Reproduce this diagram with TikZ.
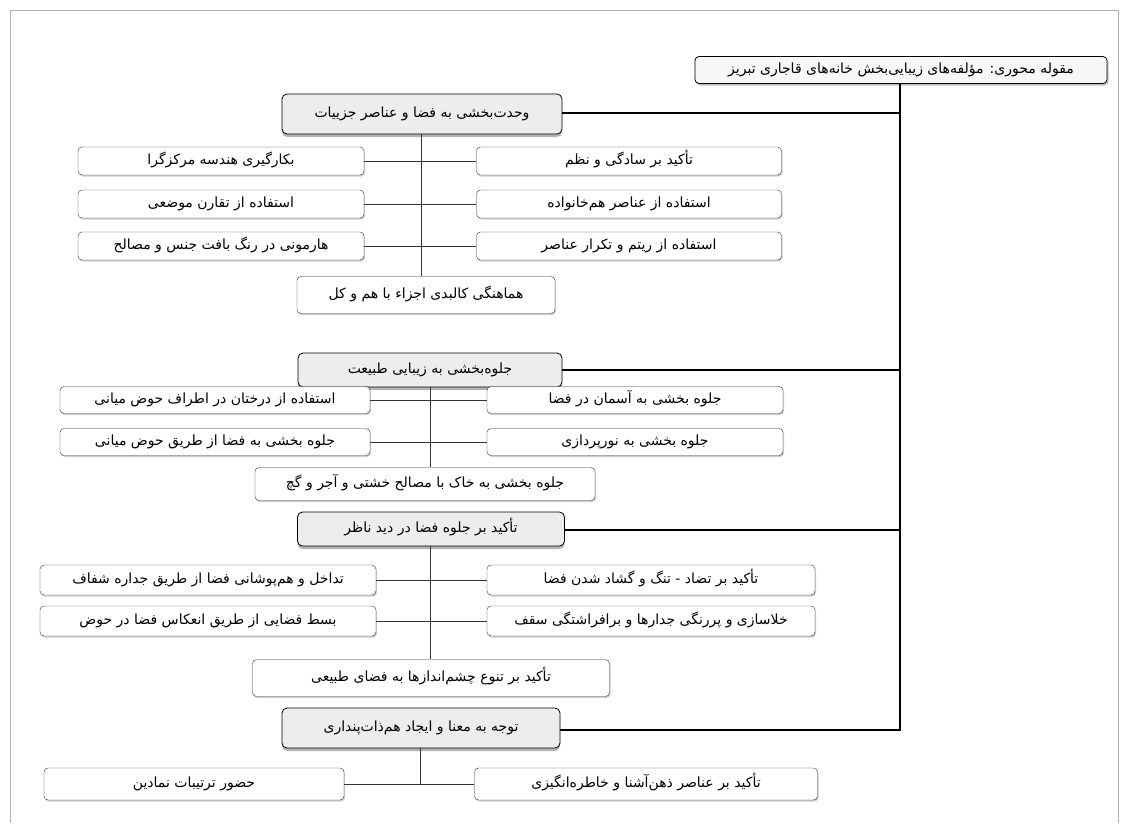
\documentclass[tikz,border=0pt]{standalone}
\usepackage{fontspec}
\newfontfamily\arabicfont[Script=Arabic]{DejaVu Sans}
\TeXXeTstate=1
\usetikzlibrary{positioning, shadows}
\newcommand{\fa}[1]{\beginR #1\endR}

\begin{document}
\begin{tikzpicture} [
    x=1pt, y=-1pt,
    topbox/.style={rectangle, rounded corners=4pt, draw=black, thick, fill=gray!6, minimum height=27pt, inner sep=2pt, text height=10pt, text depth=4pt, font=\arabicfont\fontsize{14}{16}\selectfont, drop shadow={shadow xshift=1.5pt, shadow yshift=-2pt, opacity=0.5}},
    mainbox/.style={rectangle, rounded corners=5pt, draw=black, thick, fill=gray!14, inner sep=2pt, text height=10pt, text depth=4pt, font=\arabicfont\fontsize{14}{16}\selectfont, drop shadow={shadow xshift=0pt, shadow yshift=-3pt, opacity=0.6}},
    subbox/.style={rectangle, rounded corners=4pt, draw=black!80, fill=white, inner sep=2pt, text height=10pt, text depth=4pt, font=\arabicfont\fontsize{14}{16}\selectfont, drop shadow={shadow xshift=1pt, shadow yshift=-1.5pt, opacity=0.4}},
    trunk/.style={black, line width=2pt},
    link/.style={black!80, line width=0.8pt}
]
\useasboundingbox (0,0) rectangle (1124,823);
\draw[gray!60] (10,823) -- (10,10) -- (1118,10) -- (1118,823);

% Layer 1: Define all nodes first
\node[topbox, minimum width=412pt] (core) at (901,70) {\fa{مقوله محوری: مؤلفه^^^^200cهای زیبایی^^^^200cبخش خانه^^^^200cهای قاجاری تبریز}};

% Group 1
\node[mainbox, minimum width=280pt, minimum height=40pt] (unity) at (422,114) {\fa{وحدت^^^^200cبخشی به فضا و عناصر جزییات}};
\node[subbox, minimum width=305pt, minimum height=28pt] (unity_r1) at (629,161) {\fa{تأکید بر سادگی و نظم}};
\node[subbox, minimum width=305pt, minimum height=28pt] (unity_r2) at (629,204) {\fa{استفاده از عناصر هم^^^^200cخانواده}};
\node[subbox, minimum width=305pt, minimum height=28pt] (unity_r3) at (629,246) {\fa{استفاده از ریتم و تکرار عناصر}};
\node[subbox, minimum width=286pt, minimum height=28pt] (unity_l1) at (221,161) {\fa{بکارگیری هندسه مرکزگرا}};
\node[subbox, minimum width=286pt, minimum height=28pt] (unity_l2) at (221,204) {\fa{استفاده از تقارن موضعی}};
\node[subbox, minimum width=286pt, minimum height=28pt] (unity_l3) at (221,246) {\fa{هارمونی در رنگ بافت جنس و مصالح}};
\node[subbox, minimum width=258pt, minimum height=37pt] (unity_end) at (426,295) {\fa{هماهنگی کالبدی اجزاء با هم و کل}};

% Group 2
\node[mainbox, minimum width=264pt, minimum height=34pt] (nature) at (430,370) {\fa{جلوه^^^^200cبخشی به زیبایی طبیعت}};
\node[subbox, minimum width=296pt, minimum height=27pt] (nature_r1) at (635,400) {\fa{جلوه بخشی به آسمان در فضا}};
\node[subbox, minimum width=296pt, minimum height=27pt] (nature_r2) at (635,442) {\fa{جلوه بخشی به نورپردازی}};
\node[subbox, minimum width=310pt, minimum height=27pt] (nature_l1) at (215,400) {\fa{استفاده از درختان در اطراف حوض میانی}};
\node[subbox, minimum width=310pt, minimum height=27pt] (nature_l2) at (215,442) {\fa{جلوه بخشی به فضا از طریق حوض میانی}};
\node[subbox, minimum width=340pt, minimum height=33pt] (nature_end) at (425,484) {\fa{جلوه بخشی به خاک با مصالح خشتی و آجر و گچ}};

% Group 3
\node[mainbox, minimum width=267pt, minimum height=34pt] (view) at (431,529) {\fa{تأکید بر جلوه فضا در دید ناظر}};
\node[subbox, minimum width=328pt, minimum height=30pt] (view_r1) at (651,580) {\fa{تأکید بر تضاد - تنگ و گشاد شدن فضا}};
\node[subbox, minimum width=328pt, minimum height=30pt] (view_r2) at (651,621) {\fa{خلاسازی و پررنگی جدارها و برافراشتگی سقف}};
\node[subbox, minimum width=336pt, minimum height=30pt] (view_l1) at (208,580) {\fa{تداخل و هم^^^^200cپوشانی فضا از طریق جداره شفاف}};
\node[subbox, minimum width=336pt, minimum height=30pt] (view_l2) at (208,621) {\fa{بسط فضایی از طریق انعکاس فضا در حوض}};
\node[subbox, minimum width=357pt, minimum height=37pt] (view_end) at (431,678) {\fa{تأکید بر تنوع چشم^^^^200cاندازها به فضای طبیعی}};

% Group 4
\node[mainbox, minimum width=278pt, minimum height=40pt] (meaning) at (421,728) {\fa{توجه به معنا و ایجاد هم^^^^200cذات^^^^200cپنداری}};
\node[subbox, minimum width=343pt, minimum height=32pt] (meaning_r1) at (646,784) {\fa{تأکید بر عناصر ذهن^^^^200cآشنا و خاطره^^^^200cانگیزی}};
\node[subbox, minimum width=300pt, minimum height=32pt] (meaning_l1) at (194,784) {\fa{حضور ترتیبات نمادین}};

% Layer 2: connectors behind
\begin{scope}[on background layer/.try]
    % Trunk to the main boxes
    \draw[trunk] (core.south -| 900,0) -- (900,730) -- (meaning.east |- 0,730);
    \draw[trunk] (unity.east |- 0,113) -- (900,113);
    \draw[trunk] (nature.east |- 0,370) -- (900,370);
    \draw[trunk] (view.east |- 0,530) -- (900,530);

    % Group 1
    \draw[link] (unity.south -| 421,0) -- (unity_end.north -| 421,0);
    \draw[link] (unity_l1) -- (unity_r1);
    \draw[link] (unity_l2) -- (unity_r2);
    \draw[link] (unity_l3) -- (unity_r3);

    % Group 2
    \draw[link] (nature.south -| 430,0) -- (nature_end.north -| 430,0);
    \draw[link] (nature_l1) -- (nature_r1);
    \draw[link] (nature_l2) -- (nature_r2);

    % Group 3
    \draw[link] (view.south -| 430,0) -- (view_end.north -| 430,0);
    \draw[link] (view_l1) -- (view_r1);
    \draw[link] (view_l2) -- (view_r2);

    % Group 4
    \draw[link] (meaning.south -| 420,0) -- (420,784);
    \draw[link] (meaning_l1) -- (meaning_r1);
\end{scope}

\end{tikzpicture}
\end{document}
